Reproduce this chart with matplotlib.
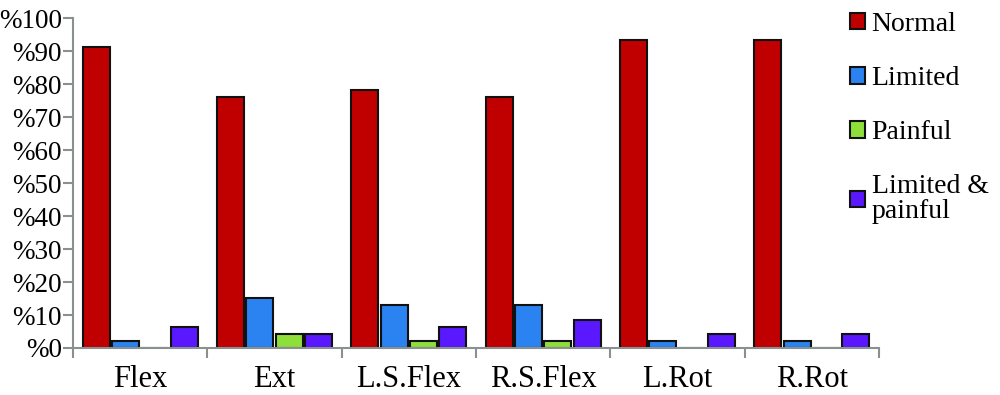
import matplotlib
matplotlib.use("Agg")
import matplotlib.pyplot as plt
import numpy as np
from matplotlib.ticker import FixedLocator

categories = ["Flex", "Ext", "L.S.Flex", "R.S.Flex", "L.Rot", "R.Rot"]
series_names = ["Normal", "Limited", "Painful", "Limited &\npainful"]
normal = [91.2, 76.0, 78.2, 76.0, 93.5, 93.5]
limited = [2.0, 15.1, 12.9, 12.9, 2.0, 2.0]
painful = [0.0, 4.1, 2.0, 2.0, 0.0, 0.0]
lim_pain = [6.3, 4.1, 6.3, 8.5, 4.1, 4.1]
yticks = list(range(0, 101, 10))
ytick_labels = ["%" + str(v) for v in yticks]

colors = ["#C00000", "#2A83F0", "#8FDF3A", "#5A18FF"]
font = "Liberation Serif"

fig = plt.figure(figsize=(10, 3.95), dpi=100)
ax = fig.add_axes([0.073, 0.119, 0.806, 0.835])

x = np.arange(len(categories))
width = 0.2
step = 0.218
data = [normal, limited, painful, lim_pain]
handles = []
for i, (vals, c, name) in enumerate(zip(data, colors, series_names)):
    off = (i - 1.5) * step
    b = ax.bar(x + off, vals, width=width, color=c, edgecolor="#111111",
               linewidth=1.5, label=name)
    handles.append(b)

ax.set_xlim(-0.5, len(categories) - 0.5)
ax.set_ylim(0, 100)
ax.set_yticks(yticks)
ax.set_yticklabels(ytick_labels, fontfamily=font, fontsize=19.5)
ax.set_xticks(x)
ax.set_xticklabels(categories, fontfamily=font, fontsize=22)
ax.xaxis.set_minor_locator(FixedLocator(np.arange(-0.5, len(categories), 1.0)))
ax.tick_params(axis="x", which="major", length=0, pad=12)
ax.tick_params(axis="x", which="minor", length=7, color="#8a9090", width=1.5, direction="out")
ax.tick_params(axis="y", length=7, color="#8a9090", width=1.5, direction="out", pad=1)

for s in ["top", "right"]:
    ax.spines[s].set_visible(False)
for s in ["left", "bottom"]:
    ax.spines[s].set_color("#8a9090")
    ax.spines[s].set_linewidth(1.5)

leg = fig.legend(handles=handles, labels=series_names, loc="upper left",
                 bbox_to_anchor=(0.839, 0.998), frameon=False,
                 prop={"family": font, "size": 20},
                 handlelength=0.55, handleheight=0.55, handletextpad=0.22,
                 labelspacing=1.05, borderaxespad=0)
for t in leg.get_texts():
    t.set_linespacing(1.0)

fig.savefig("out.png", dpi=100)
